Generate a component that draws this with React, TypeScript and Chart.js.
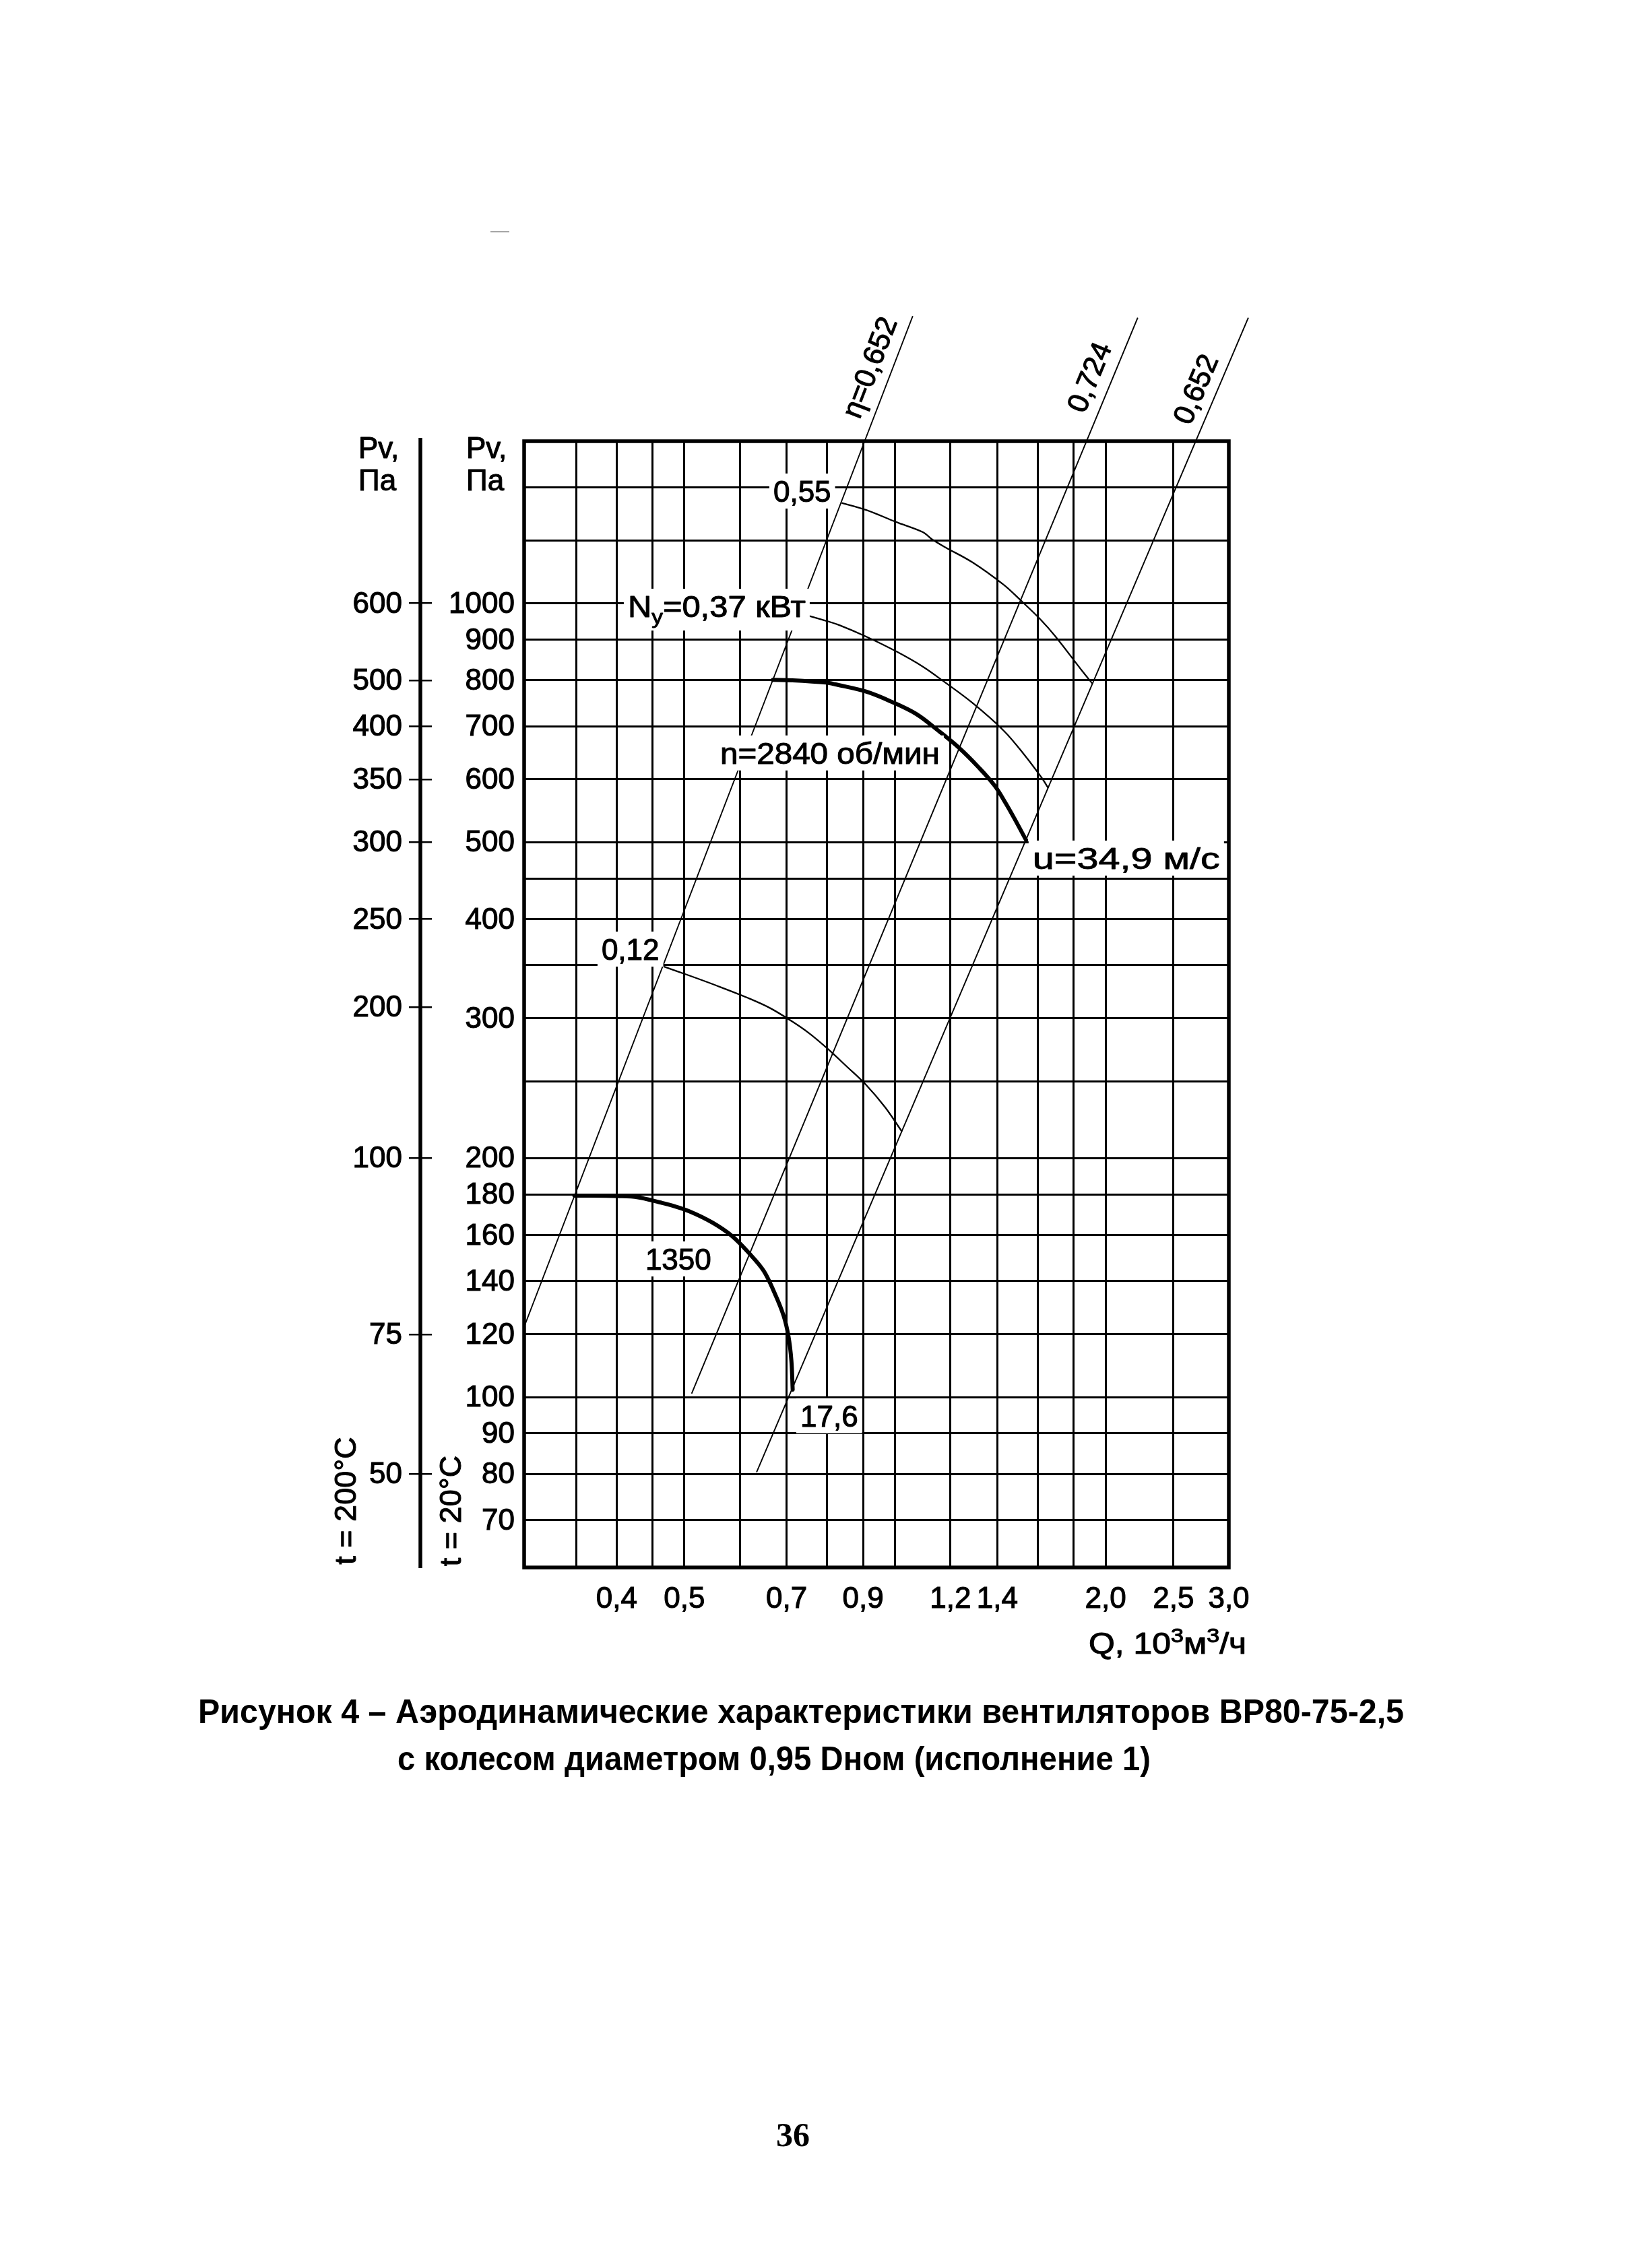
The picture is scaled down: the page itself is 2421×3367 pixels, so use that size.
import React, { useEffect, useRef } from 'react';
import { Chart, registerables } from 'chart.js';

Chart.register(...registerables);

const FONT = '"Liberation Sans", Arial, Helvetica, sans-serif';
const SERIF = '"Liberation Serif", "Times New Roman", serif';

// ---------- axes ----------
const xMin = 0.295;
const xMax = 3.0;
const xGridValues = [0.35, 0.4, 0.45, 0.5, 0.6, 0.7, 0.8, 0.9, 1.0, 1.2, 1.4, 1.6, 1.8, 2.0, 2.5, 3.0];
const xTickValues = [0.4, 0.5, 0.7, 0.9, 1.2, 1.4, 2.0, 2.5, 3.0];
const xTickLabels = ['0,4', '0,5', '0,7', '0,9', '1,2', '1,4', '2,0', '2,5', '3,0'];

const yMin = 61;
const yMax = 1600;
const yGridValues = [70, 80, 90, 100, 120, 140, 160, 180, 200, 250, 300, 350, 400, 450, 500, 600, 700, 800, 900, 1000, 1200, 1400];
const yTickValues = [70, 80, 90, 100, 120, 140, 160, 180, 200, 300, 400, 500, 600, 700, 800, 900, 1000];

// outer scale (t = 200°C), placed at inner (t = 20°C) pressure positions
const outerTickPositions = [1000, 800, 700, 600, 500, 400, 310, 200, 120, 80];
const outerTickLabels = ['600', '500', '400', '350', '300', '250', '200', '100', '75', '50'];

// ---------- fan curves ----------
const q1350 = [0.348, 0.403, 0.429, 0.461, 0.479, 0.508, 0.548, 0.585, 0.618, 0.649, 0.673, 0.693, 0.704, 0.711, 0.714];
const p1350 = [179.4, 179.1, 178.5, 175.9, 174.4, 171.4, 165.9, 159.5, 151.9, 144.2, 135.1, 126.6, 119.4, 111.1, 102.2];

const q2840 = [0.669, 0.712, 0.797, 0.822, 0.909, 0.988, 1.072, 1.154, 1.234, 1.319, 1.389, 1.441, 1.484, 1.539];
const p2840 = [800.8, 799.7, 794.5, 790.3, 773.9, 751.6, 725.3, 690.6, 657.7, 620.3, 588.7, 559.0, 534.0, 503.3];

// ---------- power curves ----------
const qN055 = [0.839, 0.911, 1.003, 1.096, 1.129, 1.176, 1.29, 1.43, 1.506, 1.616, 1.696, 1.853, 1.915];
const pN055 = [1338, 1310, 1266, 1229, 1204, 1178, 1126, 1055, 1012, 953, 908, 821, 792];

const qN037 = [0.729, 0.798, 0.834, 0.909, 1.003, 1.096, 1.174, 1.29, 1.43, 1.529, 1.622, 1.656];
const pN037 = [972, 950, 938, 908, 870, 832, 797, 749, 691, 645, 602, 585];

const qN012 = [0.467, 0.508, 0.556, 0.617, 0.663, 0.713, 0.752, 0.797, 0.853, 0.908, 0.967, 1.023];
const pN012 = [348.6, 339.6, 329.8, 318.1, 309.0, 297.2, 287.7, 275.7, 260.9, 247.6, 232.0, 216.0];

// ---------- efficiency rays ----------
const rayAq = [0.295, 1.06];
const rayAp = [122.6, 2300];
const rayBq = [0.512, 2.223];
const rayBp = [101.0, 2289];
const rayCq = [0.634, 3.199];
const rayCp = [80.4, 2289];
const rayLabels = ['η=0,652', '0,724', '0,652'];

// ---------- annotations (anchored in data coordinates) ----------
const curveLabels = [
  { text: '0,55', q: 0.67, p: 1342 },
  { text: 'N', sub: 'y', rest: '=0,37 кВт', q: 0.415, p: 960.7, width: 264 },
  { text: 'n=2840 об/мин', q: 0.5623, p: 627.8, width: 326 },
  { text: 'u=34,9 м/с', q: 1.573, p: 462.8, width: 278 },
  { text: '0,12', q: 0.3806, p: 355.4 },
  { text: '1350', q: 0.4396, p: 144.7 },
  { text: '17,6', q: 0.7322, p: 91.8 },
];

const xTitleParts = ['Q, 10', '3', 'м', '3', '/ч'];

const captionLines = [
  'Рисунок 4 – Аэродинамические характеристики вентиляторов ВР80-75-2,5',
  'с колесом диаметром 0,95 Dном (исполнение 1)',
];
const pageNumber = '36';

const pts = (qs: number[], ps: number[]) => qs.map((q, i) => ({ x: q, y: ps[i] }));

const labelFor = (values: number[], labels: string[]) => (v: any) => {
  const n = Number(v);
  const i = values.findIndex((t) => Math.abs(t - n) < 1e-6);
  return i >= 0 ? labels[i] : '';
};

const STROKE = 1.1;

function heavyText(ctx: CanvasRenderingContext2D, t: string, x: number, y: number, sw = STROKE) {
  ctx.lineWidth = sw;
  ctx.strokeStyle = '#000';
  ctx.lineJoin = 'round';
  ctx.strokeText(t, x, y);
  ctx.fillText(t, x, y);
}

const decorPlugin = {
  id: 'decor',
  afterDatasetsDraw(chart: any) {
    const { ctx, chartArea: ca, scales } = chart;
    const sx = scales.x;
    const sy = scales.y;
    const sy2 = scales.y2;
    ctx.save();

    // ray labels (rotated along rays, above the frame)
    const rays = [
      [rayAq, rayAp],
      [rayBq, rayBp],
      [rayCq, rayCp],
    ];
    const rayDist = [94, 109, 128];
    const rayPerp = [30, 30, 28];
    ctx.fillStyle = '#000';
    ctx.font = `43px ${FONT}`;
    rays.forEach(([qs, ps], i) => {
      const x0 = sx.getPixelForValue(qs[0]);
      const y0 = sy.getPixelForValue(ps[0]);
      const x1 = sx.getPixelForValue(qs[1]);
      const y1 = sy.getPixelForValue(ps[1]);
      const len = Math.hypot(x1 - x0, y1 - y0);
      const ux = (x1 - x0) / len;
      const uy = (y1 - y0) / len;
      const cx = x1 - rayDist[i] * ux + rayPerp[i] * uy;
      const cy = y1 - rayDist[i] * uy - rayPerp[i] * ux;
      ctx.save();
      ctx.translate(cx, cy);
      ctx.rotate(Math.atan2(uy, ux));
      ctx.textAlign = 'center';
      ctx.textBaseline = 'middle';
      heavyText(ctx, rayLabels[i], 0, 0);
      ctx.restore();
    });

    // frame
    ctx.strokeStyle = '#000';
    ctx.lineWidth = 5.5;
    ctx.strokeRect(ca.left, ca.top, ca.right - ca.left, ca.bottom - ca.top);

    // outer (200°C) axis line
    const ox = sy2.right - 17;
    ctx.lineWidth = 5.5;
    ctx.beginPath();
    ctx.moveTo(ox, ca.top - 5);
    ctx.lineTo(ox, ca.bottom + 1);
    ctx.stroke();

    // in-chart labels with white background
    ctx.textAlign = 'left';
    ctx.textBaseline = 'alphabetic';
    curveLabels.forEach((lb: any) => {
      const px = sx.getPixelForValue(lb.q);
      const py = sy.getPixelForValue(lb.p);
      ctx.font = `44px ${FONT}`;
      const w1 = ctx.measureText(lb.text).width;
      let w2 = 0;
      let w3 = 0;
      if (lb.sub) {
        ctx.font = `30px ${FONT}`;
        w2 = ctx.measureText(lb.sub).width;
        ctx.font = `44px ${FONT}`;
        w3 = ctx.measureText(lb.rest).width;
      }
      const natural = w1 + w2 + w3;
      const tw = lb.width || natural;
      const k = tw / natural;
      ctx.fillStyle = '#fff';
      ctx.fillRect(px - 6, py - 42, tw + 12, lb.sub ? 62 : 52);
      ctx.fillStyle = '#000';
      ctx.save();
      ctx.translate(px, py);
      ctx.scale(k, 1);
      ctx.font = `44px ${FONT}`;
      const sw = STROKE / k;
      heavyText(ctx, lb.text, 0, 0, sw);
      if (lb.sub) {
        ctx.font = `30px ${FONT}`;
        heavyText(ctx, lb.sub, w1, 10, sw);
        ctx.font = `44px ${FONT}`;
        heavyText(ctx, lb.rest, w1 + w2, 0, sw);
      }
      ctx.restore();
    });

    // axis headers
    ctx.fillStyle = '#000';
    ctx.font = `44px ${FONT}`;
    heavyText(ctx, 'Pv,', 532, 680);
    heavyText(ctx, 'Па', 532, 728);
    heavyText(ctx, 'Pv,', 692, 680);
    heavyText(ctx, 'Па', 692, 728);

    // x axis title (Q, 10³м³/ч), right-aligned near the frame
    {
      const sizes = [44, 30, 44, 30, 44];
      const rises = [0, -17, 0, -17, 0];
      const widths = xTitleParts.map((t, i) => {
        ctx.font = `${sizes[i]}px ${FONT}`;
        return ctx.measureText(t).width;
      });
      const natural = widths.reduce((a, b) => a + b, 0);
      const target = 234;
      const right = ca.right + 26;
      ctx.save();
      ctx.translate(right - target, 2455);
      ctx.scale(target / natural, 1);
      let cx = 0;
      xTitleParts.forEach((t, i) => {
        ctx.font = `${sizes[i]}px ${FONT}`;
        heavyText(ctx, t, cx, rises[i]);
        cx += widths[i];
      });
      ctx.restore();
    }

    // temperature captions (rotated)
    ctx.font = `45px ${FONT}`;
    ctx.textAlign = 'center';
    ctx.textBaseline = 'middle';
    [
      ['t = 200°C', 516, 2228],
      ['t = 20°C', 672, 2243],
    ].forEach(([t, x, y]: any) => {
      ctx.save();
      ctx.translate(x, y);
      ctx.rotate(-Math.PI / 2);
      heavyText(ctx, t, 0, 0);
      ctx.restore();
    });

    // figure caption (condensed to measured widths)
    ctx.font = `bold 50px ${FONT}`;
    ctx.textBaseline = 'alphabetic';
    const capPos = [
      [1189, 2558, 1790],
      [1149, 2628, 1118],
    ];
    captionLines.forEach((line, i) => {
      const [cx, by, tw] = capPos[i];
      const w = ctx.measureText(line).width;
      ctx.save();
      ctx.translate(cx, by);
      ctx.scale(tw / w, 1);
      ctx.textAlign = 'center';
      ctx.fillText(line, 0, 0);
      ctx.restore();
    });

    // page number
    ctx.font = `bold 50px ${SERIF}`;
    ctx.textAlign = 'center';
    ctx.fillText(pageNumber, 1177, 3186);

    // small mark at top of page
    ctx.strokeStyle = '#888';
    ctx.lineWidth = 1.5;
    ctx.beginPath();
    ctx.moveTo(728, 344);
    ctx.lineTo(756, 344);
    ctx.stroke();

    ctx.restore();
  },
};

export default function App() {
  const ref = useRef<HTMLCanvasElement>(null);

  useEffect(() => {
    const canvas = ref.current as HTMLCanvasElement;
    const thin = { borderColor: '#000', borderWidth: 2.3, pointRadius: 0, fill: false, tension: 0.35 };
    const ray = { borderColor: '#000', borderWidth: 1.9, pointRadius: 0, fill: false, tension: 0, clip: false as any };
    const thick = { borderColor: '#000', borderWidth: 6, pointRadius: 0, fill: false, tension: 0.35, borderCapStyle: 'round' as any };
    const tickFont = { family: FONT, size: 44 };

    const chart = new Chart(canvas, {
      type: 'line',
      data: {
        datasets: [
          { label: 'η=0,652 (A)', data: pts(rayAq, rayAp), ...ray },
          { label: 'η=0,724', data: pts(rayBq, rayBp), ...ray },
          { label: 'η=0,652 (C)', data: pts(rayCq, rayCp), ...ray },
          { label: 'N=0,55', data: pts(qN055, pN055), ...thin },
          { label: 'N=0,37', data: pts(qN037, pN037), ...thin },
          { label: 'N=0,12', data: pts(qN012, pN012), ...thin },
          { label: 'n=2840', data: pts(q2840, p2840), ...thick },
          { label: 'n=1350', data: pts(q1350, p1350), ...thick },
        ] as any,
      },
      options: {
        responsive: false,
        animation: false,
        devicePixelRatio: 1,
        events: [],
        layout: { padding: { left: 400, right: 597, top: 655, bottom: 900 } },
        plugins: {
          legend: { display: false },
          tooltip: { enabled: false },
          title: { display: false },
        },
        scales: {
          x: {
            type: 'logarithmic',
            position: 'bottom',
            min: xMin,
            max: xMax,
            afterBuildTicks: (axis: any) => {
              axis.ticks = xGridValues.map((v) => ({ value: v }));
            },
            afterFit: (axis: any) => {
              axis.height = 140;
            },
            ticks: {
              autoSkip: false,
              maxRotation: 0,
              minRotation: 0,
              padding: 21,
              color: '#000',
              textStrokeColor: '#000',
              textStrokeWidth: STROKE,
              font: tickFont,
              callback: labelFor(xTickValues, xTickLabels),
            },
            grid: { color: '#000', lineWidth: 3, drawTicks: false },
            border: { display: false },
          },
          y: {
            type: 'logarithmic',
            position: 'left',
            weight: 0,
            min: yMin,
            max: yMax,
            afterBuildTicks: (axis: any) => {
              axis.ticks = yGridValues.map((v) => ({ value: v }));
            },
            afterFit: (axis: any) => {
              axis.width = 137;
            },
            ticks: {
              autoSkip: false,
              padding: 14,
              labelOffset: 2,
              color: '#000',
              textStrokeColor: '#000',
              textStrokeWidth: STROKE,
              font: tickFont,
              callback: labelFor(yTickValues, yTickValues.map(String)),
            },
            grid: { color: '#000', lineWidth: 3, drawTicks: false },
            border: { display: false },
          },
          y2: {
            type: 'logarithmic',
            position: 'left',
            weight: 1,
            min: yMin,
            max: yMax,
            afterBuildTicks: (axis: any) => {
              axis.ticks = outerTickPositions.map((v) => ({ value: v }));
            },
            afterFit: (axis: any) => {
              axis.width = 241;
            },
            ticks: {
              autoSkip: false,
              padding: 10,
              labelOffset: 2,
              color: '#000',
              textStrokeColor: '#000',
              textStrokeWidth: STROKE,
              font: tickFont,
              callback: labelFor(outerTickPositions, outerTickLabels),
            },
            grid: { color: '#000', lineWidth: 2.4, drawOnChartArea: false, drawTicks: true, tickLength: 34 },
            border: { display: false },
          },
        },
      } as any,
      plugins: [decorPlugin],
    });

    return () => chart.destroy();
  }, []);

  return (
    <div style={{ position: 'absolute', left: 0, top: 0, width: 2421, height: 3367, background: '#fff' }}>
      <canvas ref={ref} width={2421} height={3367} style={{ display: 'block' }} />
    </div>
  );
}
